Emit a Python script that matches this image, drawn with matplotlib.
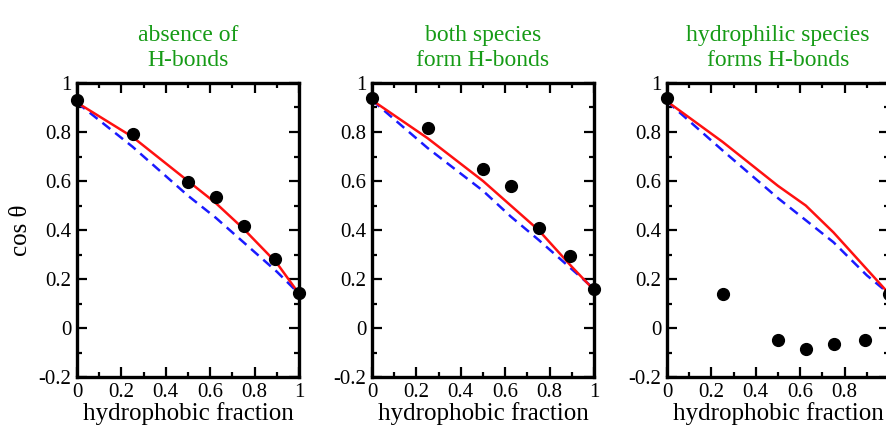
import matplotlib
matplotlib.use('Agg')
from matplotlib import pyplot as plt
from matplotlib.ticker import MultipleLocator

plt.rcParams['font.family'] = ['Liberation Serif', 'DejaVu Serif']

# data
titles = ['absence of\nH-bonds', 'both species\nform H-bonds', 'hydrophilic species\nforms H-bonds']

pts_x = [0, 0.25, 0.5, 0.625, 0.75, 0.89, 1.0]
pts_y1 = [0.93, 0.79, 0.595, 0.535, 0.415, 0.283, 0.142]
pts_y2 = [0.94, 0.815, 0.65, 0.58, 0.41, 0.295, 0.16]
pts_y3 = [0.94, 0.14, -0.05, -0.085, -0.065, -0.05, 0.14]

line_x = [0, 0.25, 0.5, 0.625, 0.75, 0.9, 1.0]
red1 = [0.92, 0.78, 0.60, 0.51, 0.405, 0.265, 0.14]
blue1 = [0.92, 0.74, 0.54, 0.45, 0.35, 0.23, 0.14]
red2 = [0.93, 0.775, 0.60, 0.50, 0.40, 0.25, 0.155]
blue2 = [0.93, 0.735, 0.56, 0.455, 0.36, 0.24, 0.16]
red3 = [0.925, 0.76, 0.58, 0.50, 0.39, 0.24, 0.14]
blue3 = [0.925, 0.725, 0.53, 0.44, 0.35, 0.215, 0.14]

xticks = [0, 0.2, 0.4, 0.6, 0.8, 1.0]
xtick_labels = ['0', '0.2', '0.4', '0.6', '0.8', '1']
yticks = [-0.2, 0, 0.2, 0.4, 0.6, 0.8, 1.0]
ytick_labels = ['-0.2', '0', '0.2', '0.4', '0.6', '0.8', '1']

panels = [(pts_y1, red1, blue1), (pts_y2, red2, blue2), (pts_y3, red3, blue3)]
lefts = [77, 372, 667]

fig = plt.figure(figsize=(8.86, 4.29), dpi=100)

for i, (pts_y, red, blue) in enumerate(panels):
    ax = fig.add_axes([lefts[i] / 886, 1 - 377 / 429, 222 / 886, 294 / 429])
    ax.plot(line_x, blue, color='#1a1aff', lw=1.8, dashes=(4, 2.5))
    ax.plot(line_x, red, color='#ff1010', lw=1.8)
    ax.plot(pts_x, pts_y, 'o', color='black', ms=8.5, clip_on=False, zorder=5)

    ax.set_xlim(0, 1)
    ax.set_ylim(-0.2, 1)
    ax.set_xticks(xticks)
    ax.set_xticklabels(xtick_labels)
    ax.set_yticks(yticks)
    ax.set_yticklabels(ytick_labels)
    ax.xaxis.set_minor_locator(MultipleLocator(0.1))
    ax.yaxis.set_minor_locator(MultipleLocator(0.1))
    ax.tick_params(which='both', direction='in', top=True, right=True,
                   labelsize=15, width=1.6)
    ax.tick_params(which='major', length=7, pad=4)
    ax.tick_params(which='minor', length=3.5)
    for s in ax.spines.values():
        s.set_linewidth(2.4)

    ax.set_xlabel('hydrophobic fraction', fontsize=18, labelpad=0)
    ax.set_title(titles[i], color='#169b16', fontsize=17, linespacing=1.25, pad=12)
    if i == 0:
        ax.set_ylabel('cos θ', fontsize=18, labelpad=5)

fig.savefig('out.png', dpi=100)
